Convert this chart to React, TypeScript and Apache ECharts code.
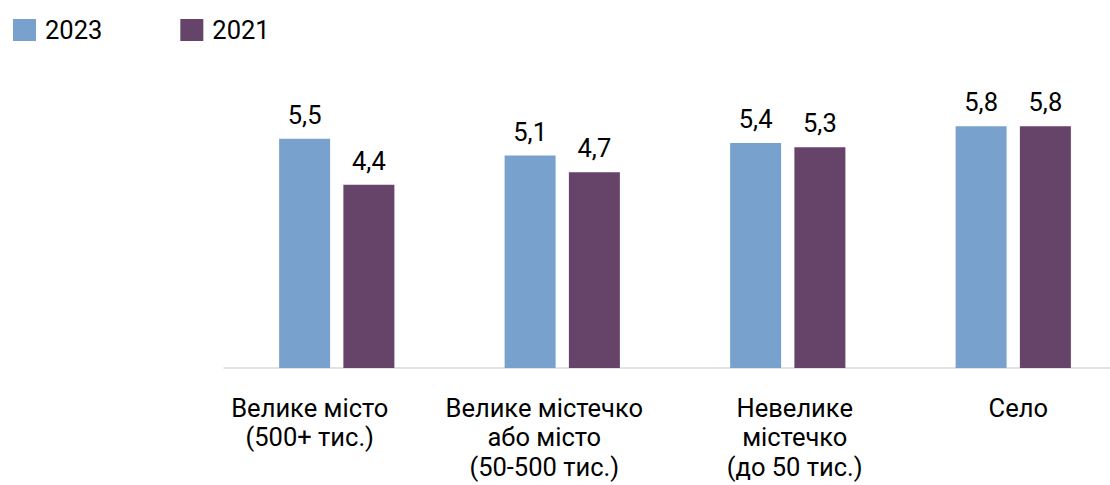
import React, { useEffect, useRef } from "react";
import * as echarts from "echarts";

const categories = [
  "Велике місто\n(500+ тис.)",
  "Велике містечко\nабо місто\n(50-500 тис.)",
  "Невелике\nмістечко\n(до 50 тис.)",
  "Село",
];
const labelPadding = [
  [0, 54, 0, 0],
  [0, 36, 0, 0],
  [0, 0, 0, 14],
  [0, 0, 0, 10],
];
const series2023 = [5.5, 5.1, 5.4, 5.8];
const series2021 = [4.4, 4.7, 5.3, 5.8];
const seriesNames = ["2023", "2021"];
const colors = ["#78A2CD", "#664369"];

export default function App() {
  const ref = useRef<HTMLDivElement>(null);
  useEffect(() => {
    if (!ref.current) return;
    const chart = echarts.init(ref.current, null, { renderer: "svg" });
    const font = "Roboto";
    const labelCfg = {
      show: true,
      position: "top",
      distance: 11,
      fontSize: 25.5,
      fontFamily: font,
      color: "#000",
      formatter: (p: any) => String(p.value).replace(".", ","),
    };
    chart.setOption({
      animation: false,
      legend: {
        left: 8,
        top: 12,
        itemWidth: 23,
        itemHeight: 22,
        itemGap: 78,
        icon: "rect",
        textStyle: {
          fontSize: 25.5,
          fontFamily: font,
          color: "#000",
          padding: [0, 0, 0, 4],
        },
        data: seriesNames,
      },
      grid: { left: 224, right: 4, top: 118, height: 250 },
      xAxis: {
        type: "category",
        data: categories.map((c, i) => ({
          value: c,
          textStyle: { padding: labelPadding[i] },
        })),
        axisLine: { lineStyle: { color: "#D9D9D9", width: 1.5 } },
        axisTick: { show: false },
        axisLabel: {
          interval: 0,
          fontSize: 25.5,
          fontFamily: font,
          color: "#000",
          lineHeight: 29.5,
          margin: 25,
        },
      },
      yAxis: {
        type: "value",
        min: 0,
        max: 6,
        show: false,
        splitLine: { show: false },
      },
      series: [
        {
          name: seriesNames[0],
          type: "bar",
          data: series2023,
          barWidth: 51,
          barGap: "26%",
          itemStyle: { color: colors[0] },
          label: labelCfg,
        },
        {
          name: seriesNames[1],
          type: "bar",
          data: series2021,
          barWidth: 51,
          barGap: "26%",
          itemStyle: { color: colors[1] },
          label: labelCfg,
        },
      ],
    });
    return () => chart.dispose();
  }, []);
  return (
    <div
      style={{ position: "fixed", left: 0, top: 0, width: 1110, height: 485, overflow: "hidden", background: "#fff" }}
    >
      <div ref={ref} style={{ width: 1130, height: 485 }} />
    </div>
  );
}
